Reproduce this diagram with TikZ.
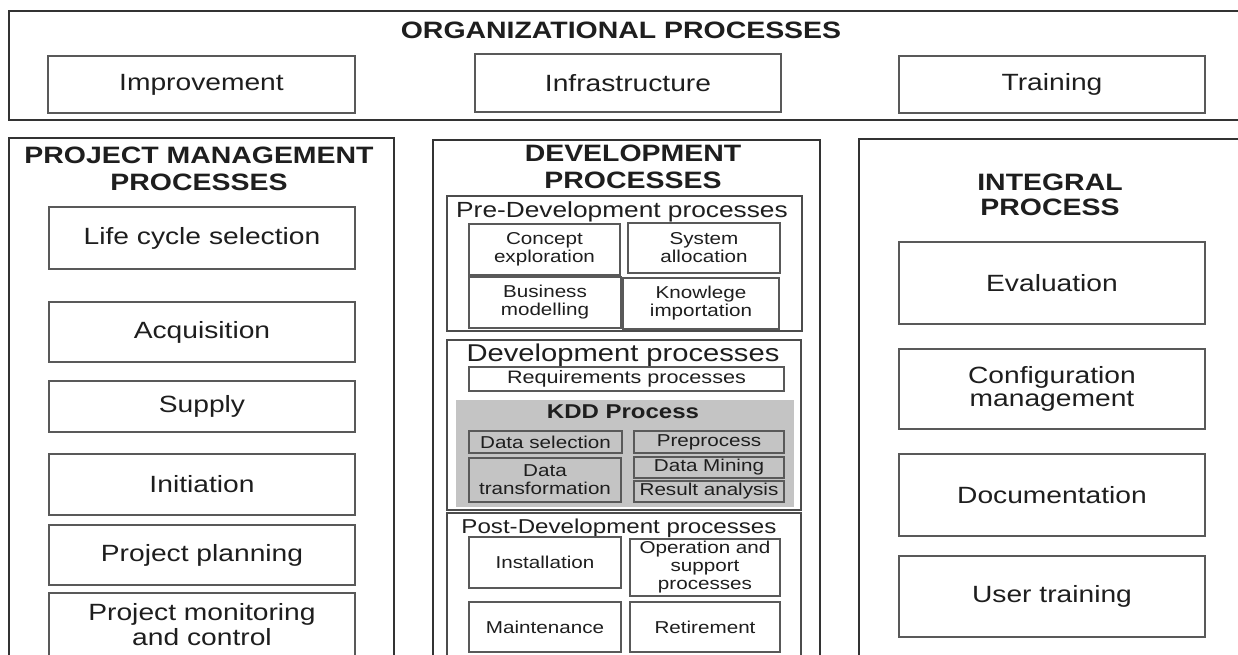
\documentclass[tikz,border=0pt]{standalone}
\usepackage{fontspec}
\setmainfont{Liberation Sans}[FakeStretch=1.2]
\definecolor{kddgray}{HTML}{C4C4C4}
\definecolor{txt}{HTML}{1E1E1E}
\newcommand\mkbox[7]{\node[#2, minimum width={(#5-#3)*0.5pt}, minimum height={(#6-#4)*0.5pt}] (#1) at ({(#3+#5)/2},{(#4+#6)/2}) {#7};}
\tikzset{
  outerbox/.style={draw=black!80, line width=0.75pt, inner sep=0pt, outer sep=0pt, fill=white},
  subbox/.style={draw=black!70, line width=0.7pt, inner sep=0pt, outer sep=0pt, fill=white, align=center, text=txt},
  procbox/.style={draw=black!65, line width=0.75pt, inner sep=0pt, outer sep=0pt, fill=white, align=center, text=txt, font=\fontsize{11.75pt}{12.5pt}\selectfont},
  smallbox/.style={draw=black!65, line width=0.7pt, inner sep=0pt, outer sep=0pt, fill=white, align=center, text=txt, font=\fontsize{8.6pt}{9pt}\selectfont},
  kddbox/.style={smallbox, fill=kddgray},
  kddarea/.style={draw=none, fill=kddgray, inner sep=0pt, outer sep=0pt},
  titletext/.style={inner sep=0pt, align=center, text=txt, font=\fontsize{11.85pt}{13.5pt}\selectfont\bfseries},
  subtitle/.style={inner sep=0pt, align=center, text=txt},
}
\begin{document}
\begin{tikzpicture}[x=0.5pt,y=-0.5pt]
\useasboundingbox (0,0) rectangle (1238,654);
\clip (0,0) rectangle (1238,654);
% Organizational processes
\mkbox{org}{outerbox}{9}{11}{1260}{120}{}
\node[titletext] (orgtitle) at (621,30) {ORGANIZATIONAL PROCESSES};
\mkbox{impr}{procbox}{48}{56}{355}{113}{Improvement}
\mkbox{infra}{procbox}{475}{54}{781}{112}{Infrastructure}
\mkbox{train}{procbox}{899}{56}{1205}{113}{Training}
% Project management processes
\mkbox{pm}{outerbox}{9}{138}{394}{700}{}
\node[titletext, font=\fontsize{11.85pt}{13.5pt}\selectfont\bfseries] (pmtitle) at (199,168.5) {PROJECT MANAGEMENT\\PROCESSES};
\mkbox{lcs}{procbox}{49}{207}{355}{269}{Life cycle selection}
\mkbox{acq}{procbox}{49}{302}{355}{362}{Acquisition}
\mkbox{sup}{procbox}{49}{381}{355}{432}{Supply}
\mkbox{ini}{procbox}{49}{454}{355}{515}{Initiation}
\mkbox{ppl}{procbox}{49}{525}{355}{585}{Project planning}
\mkbox{pmc}{procbox}{49}{593}{355}{657}{Project monitoring\\and control}
% Development processes
\mkbox{dev}{outerbox}{433}{140}{820}{700}{}
\node[titletext, font=\fontsize{11.85pt}{13.75pt}\selectfont\bfseries] (devtitle) at (633,167) {DEVELOPMENT\\PROCESSES};
\mkbox{pre}{subbox}{447}{196}{802}{331}{}
\node[subtitle, font=\fontsize{10.95pt}{12pt}\selectfont] (pretitle) at (622,212) {Pre-Development processes};
\mkbox{cex}{smallbox}{469}{224}{620}{275}{Concept\\exploration}
\mkbox{sal}{smallbox}{628}{223}{780}{273}{System\\allocation}
\mkbox{bmo}{smallbox}{469}{277}{621}{328}{Business\\modelling}
\mkbox{kim}{smallbox}{623}{278}{779}{329}{Knowlege\\importation}
\mkbox{devp}{subbox}{447}{340}{801}{510}{}
\node[subtitle, font=\fontsize{12.15pt}{13pt}\selectfont] (devptitle) at (623,355) {Development processes};
\mkbox{req}{smallbox}{469}{367}{784}{391}{\fontsize{9pt}{10pt}\selectfont Requirements processes}
\mkbox{kdd}{kddarea}{456}{400}{794}{507}{}
\node[subtitle, font=\fontsize{10pt}{11pt}\selectfont\bfseries] (kddtitle) at (623,412) {KDD Process};
\mkbox{dsel}{kddbox}{469}{431}{622}{453}{Data selection}
\mkbox{prep}{kddbox}{634}{431}{784}{453}{Preprocess}
\mkbox{dtra}{kddbox}{469}{458}{621}{502}{Data\\transformation}
\mkbox{dmin}{kddbox}{634}{457}{784}{478}{Data Mining}
\mkbox{res}{kddbox}{634}{481}{784}{502}{Result analysis}
\mkbox{post}{subbox}{447}{513}{801}{700}{}
\node[subtitle, font=\fontsize{10.05pt}{11pt}\selectfont] (posttitle) at (619,528) {Post-Development processes};
\mkbox{inst}{smallbox}{469}{537}{621}{588}{Installation}
\mkbox{ops}{smallbox}{630}{539}{780}{596}{Operation and\\support\\processes}
\mkbox{mnt}{smallbox}{469}{602}{621}{652}{Maintenance}
\mkbox{ret}{smallbox}{630}{602}{780}{652}{Retirement}
% Integral processes
\mkbox{int}{outerbox}{859}{139}{1260}{700}{}
\node[titletext, font=\fontsize{11.85pt}{12.25pt}\selectfont\bfseries] (inttitle) at (1050,195) {INTEGRAL\\PROCESS};
\mkbox{eva}{procbox}{899}{242}{1205}{324}{Evaluation}
\mkbox{cfg}{procbox, font=\fontsize{11.75pt}{11.75pt}\selectfont}{899}{349}{1205}{429}{Configuration\\management}
\mkbox{doc}{procbox}{899}{454}{1205}{536}{Documentation}
\mkbox{utr}{procbox}{899}{556}{1205}{637}{User training}
\end{tikzpicture}
\end{document}
